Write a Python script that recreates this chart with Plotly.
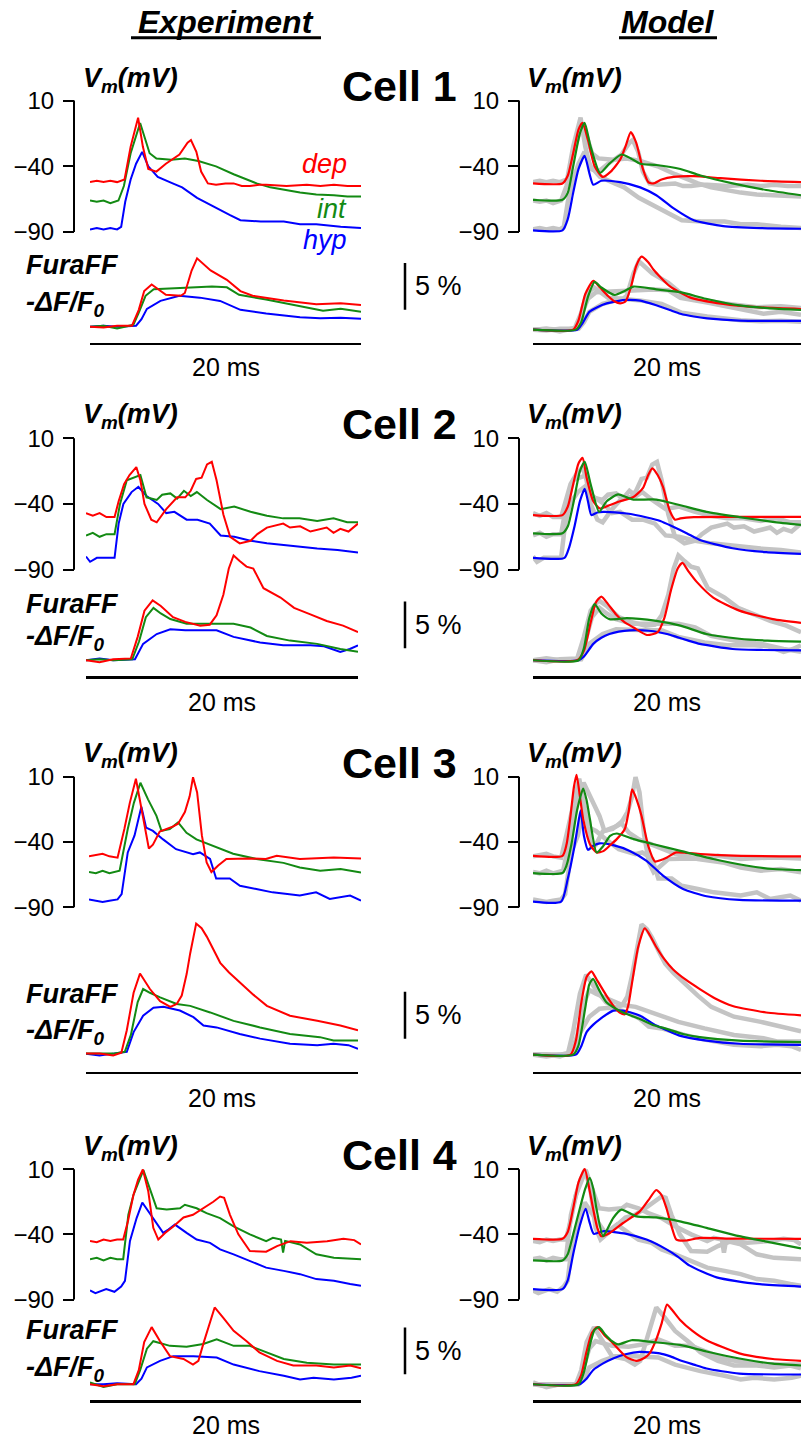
import plotly.graph_objects as go

# ---------------- DATA (time in ms, Vm in mV, FuraFF in % -dF/F0) ----------------
# Cell 1 - experiment
c1_exp_vm_dep_t = [0, 0.5, 1.0, 1.5, 2.0, 2.55, 3.0, 3.55, 3.9, 4.3, 4.9, 5.6, 6.6, 7.2, 7.45, 7.85, 8.2, 8.7, 9.3, 10.0, 10.6, 11.2, 11.8, 12.5, 13.0, 14.5, 16.0, 17.0, 18.0, 19.0, 20.0]
c1_exp_vm_dep_v = [-52, -51, -52, -51, -52, -50, -25, -3, -25, -42, -44, -38, -31, -22, -20, -29, -44, -53, -54, -53, -53, -55, -55, -54, -54, -55, -54, -55, -54, -55, -55]
c1_exp_vm_int_t = [0, 0.5, 1.0, 1.5, 2.1, 2.5, 3.0, 3.7, 4.4, 4.9, 6.0, 7.0, 8.0, 9.3, 10.6, 11.5, 12.3, 13.3, 14.3, 15.5, 16.7, 18.0, 19.0, 20.0]
c1_exp_vm_int_v = [-66, -67, -66, -68, -66, -55, -30, -7, -30, -34, -35, -34, -36, -40, -46, -50, -53, -56, -58, -60, -61.5, -62, -63, -63]
c1_exp_vm_hyp_t = [0, 0.5, 1.0, 1.5, 2.0, 2.3, 2.6, 3.0, 3.4, 3.85, 4.3, 5.0, 6.1, 6.8, 7.9, 9.35, 10.3, 11.1, 12.6, 14.3, 15.5, 16.7, 18.5, 20.0]
c1_exp_vm_hyp_v = [-88, -87, -88, -87, -88, -86, -67, -50, -38, -29, -40, -48, -53, -56, -64, -72, -77, -81, -82, -82, -84, -84, -86, -87]
c1_exp_ca_dep_t = [0, 1, 2, 3.1, 3.6, 4.0, 4.55, 5.0, 5.6, 6.7, 7.0, 7.5, 7.9, 8.9, 10.1, 11.1, 12.0, 14.3, 16.7, 18.5, 20]
c1_exp_ca_dep_v = [0, -0.1, 0.1, 0.1, 1.8, 3.8, 4.5, 4.0, 3.4, 3.3, 3.6, 6.0, 7.3, 6.0, 5.0, 3.8, 3.3, 2.8, 2.4, 2.5, 2.3]
c1_exp_ca_int_t = [0, 1, 2, 3.2, 3.6, 4.1, 4.7, 6, 7, 8, 9, 10.1, 11, 13, 15.5, 17.2, 18.5, 20]
c1_exp_ca_int_v = [0, 0.1, -0.2, 0.2, 1.5, 3.3, 4.0, 4.1, 4.2, 4.3, 4.3, 4.2, 3.4, 2.9, 2.2, 1.7, 1.9, 1.6]
c1_exp_ca_hyp_t = [0, 1, 2, 3.4, 3.8, 4.2, 5.2, 6.6, 8.1, 9.6, 11.1, 13, 15.5, 17, 18.5, 20]
c1_exp_ca_hyp_v = [0, 0.1, 0, 0.1, 0.8, 1.9, 2.75, 3.3, 3.1, 2.75, 1.8, 1.4, 1.0, 0.9, 0.95, 0.85]
# Cell 1 - model
c1_mod_vm_dep_t = [0, 2.2, 2.6, 3.0, 3.4, 3.7, 4.1, 4.6, 5.2, 5.8, 6.5, 6.9, 7.3, 7.7, 8.2, 8.6, 9.0, 9.6, 10.5, 12, 14, 17, 20]
c1_mod_vm_dep_v = [-53, -53, -47, -30, -12, -7, -20, -40, -48, -44, -35, -25, -14, -22, -42, -52, -53, -50, -48, -47.5, -49, -51, -52]
c1_mod_vm_int_t = [0, 2.2, 2.6, 3.0, 3.5, 3.85, 4.3, 5.0, 5.7, 6.6, 7.3, 8.0, 9.2, 11.0, 12.5, 14.9, 17.4, 20]
c1_mod_vm_int_v = [-65.5, -65.5, -60, -40, -15, -7, -25, -45, -38, -31, -34, -38, -39, -42, -47, -53, -58, -62]
c1_mod_vm_hyp_t = [0, 2.2, 2.6, 3.0, 3.4, 3.85, 4.2, 4.5, 5.1, 6.5, 8.0, 9.2, 10.5, 12.0, 14.2, 17, 20]
c1_mod_vm_hyp_v = [-88.7, -88.7, -80, -60, -42, -32, -45, -54, -51, -52, -56, -62, -72, -81, -85.5, -87, -87.5]
c1_mod_ca_dep_t = [0, 3.0, 3.4, 3.9, 4.5, 5.0, 5.6, 6.1, 6.5, 6.9, 7.3, 7.7, 8.1, 8.6, 9.0, 10.2, 11.7, 14.2, 16.7, 20]
c1_mod_ca_dep_v = [0, 0, 1.0, 3.8, 5.2, 4.5, 3.6, 3.0, 2.8, 3.0, 4.5, 6.8, 7.8, 7.2, 6.4, 4.65, 3.45, 2.75, 2.4, 2.2]
c1_mod_ca_int_t = [0, 3.2, 3.6, 4.1, 4.6, 5.1, 6.1, 6.8, 7.5, 9.2, 11, 12.9, 15.4, 17.5, 20]
c1_mod_ca_int_v = [0, 0, 0.8, 3.5, 5.1, 4.5, 3.7, 4.1, 4.6, 4.3, 4.0, 3.3, 2.6, 2.3, 2.1]
c1_mod_ca_hyp_t = [0, 3.3, 3.7, 4.2, 4.8, 5.5, 6.3, 7.0, 8.0, 9.2, 10.2, 11, 12, 13, 15.4, 20]
c1_mod_ca_hyp_v = [0, 0, 0.7, 1.9, 2.4, 2.8, 3.05, 3.17, 3.1, 2.6, 2.1, 1.7, 1.4, 1.2, 0.97, 0.93]

# Cell 2 - experiment
c2_exp_vm_dep_t = [0, 0.5, 1.0, 1.5, 2.1, 2.4, 2.8, 3.2, 3.7, 4.0, 4.3, 4.8, 5.2, 5.9, 6.7, 7.3, 7.7, 8.1, 8.5, 8.9, 9.25, 9.6, 10.1, 10.6, 11.3, 12.1, 12.6, 13.3, 14.5, 15.0, 15.75, 16.5, 17.7, 18.2, 18.7, 19.3, 20]
c2_exp_vm_dep_v = [-47, -49, -47, -50, -50, -38, -25, -18, -12, -22, -40, -52, -54, -44, -35, -35, -30, -21, -20, -10, -8, -22, -48, -65, -70, -68, -63, -58, -55, -58, -57, -61, -58, -62, -59, -61, -55]
c2_exp_vm_int_t = [0, 0.5, 1.0, 1.5, 2.1, 2.5, 3.0, 3.5, 4.0, 4.45, 5.2, 5.6, 6.2, 6.7, 7.2, 7.7, 8.15, 8.9, 9.9, 10.9, 12.1, 13.3, 14.5, 15.7, 17.0, 18.2, 19.2, 20]
c2_exp_vm_int_v = [-64, -62, -65, -63, -63, -40, -22, -20, -18, -35, -37, -33, -32, -36, -30, -34, -31, -37, -44, -42, -46, -49, -51, -51, -53, -51, -54, -54]
c2_exp_vm_hyp_t = [0, 0.3, 0.8, 1.5, 2.1, 2.4, 2.75, 3.35, 3.85, 4.45, 5.3, 5.9, 6.5, 7.4, 8.2, 9.1, 9.9, 10.9, 12.1, 13.3, 15.0, 16.0, 17.0, 18.5, 20]
c2_exp_vm_hyp_v = [-80, -84, -81, -81, -81, -55, -40, -31, -27, -34, -40, -47, -46, -52, -52, -55, -64, -65, -68, -70, -72, -73, -74, -75, -77]
c2_exp_ca_dep_t = [0, 1, 2, 3.3, 3.8, 4.3, 4.9, 5.5, 6.4, 7.3, 8.4, 9.1, 9.6, 10.1, 10.5, 10.85, 11.3, 11.8, 12.3, 13.05, 14.3, 15.3, 16.5, 17.7, 18.9, 20]
c2_exp_ca_dep_v = [0, -0.2, 0.1, 0.2, 2.5, 5.3, 6.4, 5.8, 4.6, 4.1, 3.7, 3.8, 4.8, 7.0, 9.8, 11.2, 10.6, 10.0, 9.8, 7.7, 6.7, 5.6, 4.9, 4.2, 3.7, 3.0]
c2_exp_ca_int_t = [0, 1, 2, 3.4, 3.9, 4.4, 4.96, 5.5, 6.2, 7.4, 9.0, 10.85, 12.1, 13.3, 15.0, 17.0, 18.7, 20]
c2_exp_ca_int_v = [0, 0.1, 0, 0.1, 2.0, 4.6, 5.6, 5.0, 4.4, 3.9, 3.9, 3.9, 3.5, 2.6, 2.1, 1.75, 1.2, 0.9]
c2_exp_ca_hyp_t = [0, 1, 2, 3.6, 4.2, 5.2, 6.2, 7.3, 8.4, 9.6, 10.85, 12.8, 14.5, 16.5, 17.5, 18.7, 19.4, 20]
c2_exp_ca_hyp_v = [0, 0.2, 0, 0.1, 1.75, 2.8, 3.3, 3.2, 3.2, 3.2, 2.5, 1.9, 1.6, 1.6, 1.5, 0.9, 1.2, 1.6]
# Cell 2 - model
c2_mod_vm_dep_t = [0, 2.2, 2.6, 3.0, 3.4, 3.7, 4.0, 4.5, 5.0, 5.7, 6.5, 7.5, 8.2, 8.6, 8.9, 9.3, 9.7, 10.2, 10.6, 11.0, 12.0, 15, 20]
c2_mod_vm_dep_v = [-48.5, -48.5, -42, -25, -9, -5, -20, -38, -43.5, -41, -38, -34.7, -28, -18, -13, -18, -27, -45, -52, -51, -50, -49.8, -49.8]
c2_mod_vm_int_t = [0, 2.2, 2.6, 3.0, 3.5, 3.86, 4.3, 4.93, 5.5, 6.35, 7.0, 7.5, 9.2, 11.0, 12.95, 15.4, 17.9, 20]
c2_mod_vm_int_v = [-62.4, -62.4, -57, -40, -15, -8, -25, -46, -38, -32.7, -35, -36.7, -36.7, -41, -46, -50, -53.6, -56]
c2_mod_vm_hyp_t = [0, 2.35, 2.7, 3.1, 3.5, 3.86, 4.1, 4.36, 4.8, 5.23, 7.0, 8.5, 9.5, 10.46, 11.5, 12.45, 14.9, 17.4, 20]
c2_mod_vm_hyp_v = [-81, -81, -73, -57, -38, -28.5, -38, -48.5, -46.5, -46, -47.3, -50.3, -53, -57.4, -62.5, -67.4, -73.7, -76.7, -78]
c2_mod_ca_dep_t = [0, 3.3, 3.8, 4.3, 4.7, 5.1, 5.6, 6.2, 6.8, 7.5, 8.5, 9.3, 9.8, 10.3, 10.8, 11.15, 11.6, 12.2, 13.45, 15.4, 17.9, 20]
c2_mod_ca_dep_v = [0, 0, 1.0, 4.0, 6.2, 6.8, 6.0, 4.9, 4.1, 3.5, 2.7, 3.0, 4.5, 7.5, 9.8, 10.4, 9.5, 8.4, 6.7, 5.3, 4.4, 4.0]
c2_mod_ca_int_t = [0, 3.4, 3.8, 4.2, 4.6, 5.1, 5.7, 6.3, 7.0, 9.2, 11.0, 12.95, 15.4, 17.5, 20]
c2_mod_ca_int_v = [0, 0, 1.3, 4.5, 6.0, 5.0, 4.4, 4.4, 4.5, 4.2, 3.7, 2.8, 2.3, 2.1, 2.0]
c2_mod_ca_hyp_t = [0, 3.4, 3.8, 4.5, 5.1, 5.7, 6.4, 7.2, 8.2, 9.0, 10.0, 10.7, 11.6, 12.45, 14.9, 17, 20]
c2_mod_ca_hyp_v = [0, 0, 0.4, 1.75, 2.4, 2.8, 3.05, 3.2, 3.2, 3.1, 2.8, 2.5, 2.1, 1.75, 1.2, 1.1, 1.05]

# Cell 3 - experiment
c3_exp_vm_dep_t = [0, 0.5, 1.0, 1.5, 2.1, 2.6, 3.0, 3.45, 4.0, 4.4, 4.7, 5.2, 6.2, 6.55, 7.05, 7.4, 7.65, 7.95, 8.3, 8.65, 9.0, 9.5, 10.1, 11.8, 13.0, 13.8, 15.5, 18.0, 20]
c3_exp_vm_dep_v = [-51, -50, -49, -51, -52, -30, -10, 8.5, -22, -45, -42, -32, -28, -26, -17, -5, 9.7, -2, -35, -55.7, -63, -58, -53, -52.6, -53, -50.6, -53, -51.8, -52.6]
c3_exp_vm_int_t = [0, 0.5, 1.0, 1.5, 2.25, 2.85, 3.3, 3.78, 4.34, 4.96, 5.33, 5.94, 6.55, 7.17, 7.9, 9.1, 10.6, 12.3, 14.3, 15.5, 17.0, 18.5, 20]
c3_exp_vm_int_v = [-63, -64, -62, -64, -62, -30, -10, 5.4, -7.3, -20, -31.5, -30, -25, -33, -38, -43, -49, -53, -56, -59.5, -62, -60.7, -63.3]
c3_exp_vm_hyp_t = [0, 0.5, 1.0, 1.5, 2.1, 2.4, 2.85, 3.35, 3.85, 4.2, 4.7, 5.45, 6.4, 7.65, 8.15, 8.9, 9.35, 10.35, 11.1, 12.3, 13.5, 15.5, 16.7, 17.7, 19.2, 20]
c3_exp_vm_hyp_v = [-84, -85, -86, -85, -84, -80, -48, -35, -13, -29, -31.5, -38, -45.5, -49.3, -48, -53, -68, -68, -73.5, -76, -78.6, -81, -78.6, -83.7, -81, -85]
c3_exp_ca_dep_t = [0, 1, 2, 2.6, 3.0, 3.5, 3.97, 4.3, 4.7, 5.45, 6.2, 6.67, 7.04, 7.4, 7.66, 8.1, 8.5, 8.88, 9.4, 9.87, 10.5, 11.3, 12.3, 13.3, 15.0, 17.0, 18.7, 20]
c3_exp_ca_dep_v = [0, 0, -0.2, 0.1, 2.5, 6.5, 8.55, 7.8, 6.9, 5.6, 5.0, 5.3, 6.2, 8.5, 10.7, 13.9, 13.4, 12.5, 11.0, 9.7, 8.7, 7.6, 6.3, 5.1, 4.05, 3.5, 3.0, 2.5]
c3_exp_ca_int_t = [0, 2, 2.85, 3.3, 3.8, 4.2, 4.7, 5.45, 6.67, 7.66, 9.13, 10.85, 12.8, 15.0, 17.2, 18.2, 20]
c3_exp_ca_int_v = [0, 0, 0.2, 2.0, 5.5, 6.9, 6.5, 6.0, 5.3, 5.1, 4.4, 3.5, 2.8, 2.1, 1.76, 1.4, 1.4]
c3_exp_ca_hyp_t = [0, 1, 2, 3.0, 3.5, 4.2, 4.96, 5.7, 6.9, 7.9, 8.64, 9.6, 11.3, 12.8, 15.0, 17.0, 18.2, 19.3, 20]
c3_exp_ca_hyp_v = [0, -0.2, 0, 0.2, 2.3, 4.05, 4.9, 5.0, 4.6, 3.9, 3.0, 2.8, 2.1, 1.6, 1.05, 0.9, 1.05, 0.9, 0.5]
# Cell 3 - model
c3_mod_vm_dep_t = [0, 2.2, 2.5, 2.8, 3.05, 3.25, 3.5, 3.75, 4.25, 4.75, 5.25, 5.8, 6.25, 6.85, 7.15, 7.4, 7.75, 8.1, 8.6, 9.1, 9.5, 10.0, 10.7, 12.5, 15, 20]
c3_mod_vm_dep_v = [-50.6, -50.6, -42, -20, 2, 11.5, -5, -22.6, -41.7, -48, -47, -42, -37.8, -30, -16, 0.3, -8, -20, -43, -55, -54, -51.8, -48, -49.3, -50.5, -51]
c3_mod_vm_int_t = [0, 2.2, 2.5, 2.9, 3.3, 3.75, 4.0, 4.25, 4.75, 5.25, 5.75, 6.25, 7.5, 9.0, 11.0, 13.45, 15.9, 17.9, 20]
c3_mod_vm_int_v = [-63.8, -63.8, -58, -40, -15, 1, -8, -22.6, -48, -43, -35.3, -33.5, -37.8, -41.7, -46.8, -53, -58, -60.7, -61.5]
c3_mod_vm_hyp_t = [0, 2.1, 2.6, 3.1, 3.4, 3.56, 3.8, 4.1, 4.48, 4.98, 5.98, 7.22, 8.47, 9.7, 11.2, 12.95, 15.4, 20]
c3_mod_vm_hyp_v = [-85.7, -85.7, -68, -43, -24, -15.7, -35.3, -46, -43, -41, -42.4, -46.8, -54.4, -65.8, -76, -81.6, -84.4, -85]
c3_mod_ca_dep_t = [0, 2.8, 3.2, 3.6, 4.0, 4.36, 4.8, 5.48, 6.0, 6.47, 6.85, 7.1, 7.35, 7.85, 8.34, 8.7, 9.2, 9.8, 10.46, 11.4, 12.45, 13.6, 14.9, 17.4, 20]
c3_mod_ca_dep_v = [0, 0, 1.5, 5.5, 8.3, 8.9, 7.9, 6.3, 5.2, 4.5, 4.3, 5.2, 7.3, 11.5, 13.5, 12.8, 11.5, 10.2, 9.1, 8.0, 7.0, 6.0, 5.2, 4.5, 4.2]
c3_mod_ca_int_t = [0, 3.0, 3.4, 3.9, 4.2, 4.48, 4.9, 5.48, 6.72, 7.97, 8.9, 9.96, 11.2, 12.45, 15.4, 20]
c3_mod_ca_int_v = [0, 0, 1.0, 5.0, 7.5, 8.1, 7.0, 5.6, 4.5, 3.8, 3.2, 2.75, 2.2, 1.87, 1.5, 1.34]
c3_mod_ca_hyp_t = [0, 3.2, 3.6, 4.0, 4.5, 5.0, 6.0, 6.7, 7.3, 8.0, 9.2, 10.0, 11.0, 12.95, 15.4, 20]
c3_mod_ca_hyp_v = [0, 0, 0.9, 2.4, 3.2, 3.8, 4.7, 4.7, 4.5, 4.15, 3.1, 2.6, 2.0, 1.5, 1.16, 1.05]

# Cell 4 - experiment
c4_exp_vm_dep_t = [0, 0.5, 1.0, 1.5, 2.0, 2.45, 2.8, 3.2, 3.55, 3.9, 4.3, 4.67, 5.04, 5.54, 6.15, 6.9, 7.6, 8.36, 9.1, 9.6, 9.9, 10.33, 10.95, 11.8, 13.0, 13.8, 14.8, 16.0, 17.5, 18.7, 19.5, 20]
c4_exp_vm_dep_v = [-45, -46, -44, -45, -44, -44, -30, -10, 2, 9.7, -7, -35, -44, -39, -34, -27, -25, -20, -15, -11, -12, -25, -40, -52.8, -53.3, -49, -45.2, -46.5, -45.2, -43.4, -44.4, -47.7]
c4_exp_vm_int_t = [0, 0.5, 1.0, 1.5, 2.0, 2.45, 2.83, 3.2, 3.94, 4.43, 4.92, 5.66, 6.64, 7.0, 7.87, 8.6, 9.6, 10.6, 11.8, 13.0, 13.5, 14.1, 14.25, 14.4, 15.5, 16.7, 18.0, 20]
c4_exp_vm_int_v = [-59, -58, -60, -58, -59, -59, -25, -10, 9.2, -4.7, -20, -21, -20, -17.3, -20, -23.7, -27.5, -33.8, -40, -45.2, -42.7, -44, -54, -45, -47.7, -55.3, -58, -59]
c4_exp_vm_hyp_t = [0, 0.4, 1.2, 1.8, 2.3, 2.58, 2.95, 3.44, 3.86, 4.3, 4.92, 5.4, 5.78, 6.27, 7.13, 7.87, 8.86, 9.6, 10.6, 11.8, 13.0, 14.3, 15.5, 16.7, 18.0, 19.2, 20]
c4_exp_vm_hyp_v = [-83, -85, -82, -84, -80, -75.6, -45, -27.5, -15.6, -22.4, -32.5, -38.9, -36.3, -32.5, -38.9, -44, -46.5, -51.5, -55.3, -60.4, -65.5, -68, -70.5, -74.3, -75.6, -78, -79.4]
c4_exp_ca_dep_t = [0, 1, 2, 3.2, 3.6, 4.0, 4.55, 5.17, 5.9, 6.9, 7.6, 8.0, 8.4, 8.73, 9.2, 9.84, 10.6, 11.56, 12.5, 13.8, 15.0, 16.7, 18.0, 19.2, 20]
c4_exp_ca_dep_v = [0, -0.2, 0, 0, 1.5, 4.5, 6.1, 4.6, 3.0, 2.7, 2.1, 2.5, 4.5, 6.1, 8.2, 7.1, 5.7, 4.6, 3.4, 2.5, 2.0, 2.0, 1.8, 2.0, 1.7]
c4_exp_ca_int_t = [0, 1, 2, 3.3, 3.7, 4.2, 4.67, 5.9, 7.13, 8.36, 9.35, 10.6, 11.8, 13.0, 14.3, 16.0, 18.0, 20]
c4_exp_ca_int_v = [0.2, -0.3, 0, 0, 1.5, 3.8, 4.6, 4.1, 4.0, 4.3, 4.8, 4.1, 4.1, 3.4, 2.7, 2.3, 2.1, 2.1]
c4_exp_ca_hyp_t = [0, 1, 2, 3.4, 3.8, 4.2, 5.17, 6.15, 7.63, 9.35, 10.6, 12.5, 14.3, 15.5, 16.5, 18.0, 19.3, 20]
c4_exp_ca_hyp_v = [0, 0, 0.1, 0, 0.6, 1.8, 2.5, 3.0, 3.0, 2.86, 2.1, 1.4, 0.9, 0.5, 0.7, 0.5, 0.7, 0.9]
# Cell 4 - model
c4_mod_vm_dep_t = [0, 2.2, 2.6, 3.0, 3.4, 3.86, 4.2, 4.48, 4.8, 5.1, 5.73, 6.72, 7.97, 8.6, 9.2, 9.6, 9.96, 10.4, 10.7, 11.45, 12.45, 15, 20]
c4_mod_vm_dep_v = [-43.4, -43.4, -38, -20, 0, 10, -5, -20, -35, -41.4, -38.9, -31.3, -22.4, -14, -6, -10, -20, -36, -44, -44.7, -42.7, -43.3, -43.4]
c4_mod_vm_int_t = [0, 2.2, 2.6, 3.0, 3.5, 3.9, 4.23, 4.5, 4.73, 5.23, 5.6, 5.98, 6.6, 7.72, 9.2, 10.96, 12.95, 15.4, 17.9, 20]
c4_mod_vm_int_v = [-60, -60, -55, -40, -20, -5, 3.4, -5, -20, -41.4, -35, -27.5, -21, -26.2, -27, -30, -35, -41.4, -46.5, -50.8]
c4_mod_vm_hyp_t = [0, 2.2, 2.6, 3.0, 3.5, 3.93, 4.2, 4.53, 5.23, 6.97, 8.47, 9.96, 10.8, 11.7, 13.7, 16.7, 20]
c4_mod_vm_hyp_v = [-82, -82, -75, -55, -33, -20.4, -30, -39.6, -37.6, -39.6, -44, -51.5, -57, -64, -73, -78, -80]
c4_mod_ca_dep_t = [0, 3.2, 3.6, 4.0, 4.4, 4.78, 5.3, 5.98, 6.97, 7.72, 8.3, 8.7, 9.2, 9.6, 10.0, 10.4, 10.96, 11.9, 12.95, 15.4, 17.9, 20]
c4_mod_ca_dep_v = [0, 0, 1.0, 3.5, 5.5, 6.1, 5.3, 4.36, 2.9, 2.5, 2.8, 3.3, 4.8, 6.5, 8.5, 7.9, 6.9, 5.7, 4.7, 3.3, 2.7, 2.5]
c4_mod_ca_int_t = [0, 3.4, 3.8, 4.3, 4.6, 4.93, 5.4, 5.9, 6.35, 7.35, 8.96, 10.96, 12.95, 15.4, 17.9, 20]
c4_mod_ca_int_v = [0, 0, 1.3, 4.5, 5.8, 6.1, 5.3, 4.6, 4.25, 4.7, 4.5, 4.2, 3.5, 2.75, 2.2, 2.0]
c4_mod_ca_hyp_t = [0, 3.5, 4.0, 4.48, 5.2, 5.98, 6.9, 7.97, 9.46, 10.2, 10.96, 12.0, 12.95, 15.4, 20]
c4_mod_ca_hyp_v = [0, 0, 0.6, 1.5, 2.2, 2.75, 3.2, 3.46, 3.3, 3.0, 2.57, 2.1, 1.68, 1.14, 1.04]

cell_labels = ["Cell 1", "Cell 2", "Cell 3", "Cell 4"]
vm_ticks = [10, -40, -90]
time_bar_label = "20 ms"
ca_bar_label = "5 %"
ca_bar_size = 5

# ---------------- FIGURE ----------------
W, H = 801, 1445
FONT = "Liberation Sans, Arial, Helvetica, sans-serif"
COL = {"dep": "#ff0000", "int": "#138a13", "hyp": "#0000ff"}
GREY = "#c4c4c4"
PX_PER_PCT = 9.4
G = globals()


def series(cell, col, kind, cond):
    return G[f"c{cell}_{col}_{kind}_{cond}_t"], G[f"c{cell}_{col}_{kind}_{cond}_v"]


GEOM = [
    dict(p10=98, p90=230, be=325, bm=328, tl=341, bar=(260, 308), vm_y=77, cell_y=83, fura_y=263, dff_y=302, ms_y=366, exv=(90, 361), exc=(90, 361)),
    dict(p10=437, p90=569, be=660, bm=660, tl=676, bar=(602, 648), vm_y=415, cell_y=423, fura_y=604, dff_y=638, ms_y=702, exv=(86, 358), exc=(86, 358)),
    dict(p10=777, p90=908, be=1055, bm=1056, tl=1073, bar=(993, 1040), vm_y=755, cell_y=763, fura_y=995, dff_y=1033, ms_y=1100, exv=(89, 361), exc=(86, 358)),
    dict(p10=1171, p90=1302, be=1387, bm=1387, tl=1403, bar=(1330, 1377), vm_y=1150, cell_y=1157, fura_y=1333, dff_y=1372, ms_y=1428, exv=(90, 361), exc=(90, 361)),
]
MODX = (533, 801)
AXX = {"exp": 74, "mod": 519}

fig = go.Figure()
shapes, annots = [], []
counter = [0]


def fx(p):
    return p / W


def fy(p):
    return 1 - p / H


def new_axes(xdom, ydom, xrange, yrange, xkw, ykw):
    counter[0] += 1
    n = counter[0]
    sx = "" if n == 1 else str(n)
    xa = dict(domain=[fx(xdom[0]), fx(xdom[1])], range=xrange, anchor="y" + sx,
              showgrid=False, zeroline=False, fixedrange=True)
    xa.update(xkw)
    ya = dict(domain=[fy(ydom[1]), fy(ydom[0])], range=yrange, anchor="x" + sx,
              showgrid=False, zeroline=False, fixedrange=True)
    ya.update(ykw)
    fig.update_layout({"xaxis" + sx: xa, "yaxis" + sx: ya})
    return "x" + sx, "y" + sx


def add_line(xr, yr, t, v, color, width, smooth=False):
    fig.add_trace(go.Scatter(x=t, y=v, xaxis=xr, yaxis=yr, mode="lines",
                             line=dict(color=color, width=width,
                                       shape="spline" if smooth else "linear",
                                       smoothing=0.6 if smooth else None),
                             showlegend=False, hoverinfo="skip"))


def ann(text, x, y, size, xanchor="center", color="black"):
    annots.append(dict(text=text, x=fx(x), y=fy(y), xref="paper", yref="paper",
                       xanchor=xanchor, yanchor="middle", showarrow=False,
                       font=dict(family=FONT, size=size, color=color)))


VM_LO, VM_HI = -98, 18
for ci, g in enumerate(GEOM):
    cell = ci + 1
    s = (g["p90"] - g["p10"]) / 100.0
    for col in ("exp", "mod"):
        xv = g["exv"] if col == "exp" else MODX
        xc = g["exc"] if col == "exp" else MODX
        base = g["be"] if col == "exp" else g["bm"]
        # ---- Vm panel ----
        top = g["p10"] - (VM_HI - 10) * s
        bot = g["p90"] + (-90 - VM_LO) * s
        xr, yr = new_axes(xv, (top, bot), [0, 20], [VM_LO, VM_HI],
                          dict(visible=False),
                          dict(anchor="free", position=fx(AXX[col]), showline=False,
                               ticks="outside", ticklen=11, tickwidth=2, tickcolor="black",
                               tickvals=vm_ticks, ticklabelstandoff=4,
                               tickfont=dict(family=FONT, size=24, color="black")))
        shapes.append(dict(type="line", xref="paper", yref=yr, x0=fx(AXX[col]), x1=fx(AXX[col]),
                           y0=-90, y1=10, line=dict(color="black", width=2)))
        if col == "mod":
            for cond in ("hyp", "int", "dep"):
                t, v = series(cell, "exp", "vm", cond)
                add_line(xr, yr, t, v, GREY, 4.5)
            for cond in ("hyp", "dep", "int"):
                t, v = series(cell, "mod", "vm", cond)
                add_line(xr, yr, t, v, COL[cond], 2.2, smooth=True)
        else:
            for cond in ("hyp", "int", "dep"):
                t, v = series(cell, "exp", "vm", cond)
                add_line(xr, yr, t, v, COL[cond], 2)
        # ---- FuraFF panel ----
        yrng = [-(g["tl"] - base) / PX_PER_PCT, (base - g["p10"]) / PX_PER_PCT]
        xr2, yr2 = new_axes(xc, (g["p10"], g["tl"]), [0, 20], yrng,
                            dict(showline=True, linewidth=2.5, linecolor="black",
                                 showticklabels=False, ticks=""),
                            dict(visible=False))
        if col == "mod":
            for cond in ("hyp", "int", "dep"):
                t, v = series(cell, "exp", "ca", cond)
                add_line(xr2, yr2, t, v, GREY, 4.5)
            for cond in ("hyp", "dep", "int"):
                t, v = series(cell, "mod", "ca", cond)
                add_line(xr2, yr2, t, v, COL[cond], 2.2, smooth=True)
        else:
            for cond in ("hyp", "int", "dep"):
                t, v = series(cell, "exp", "ca", cond)
                add_line(xr2, yr2, t, v, COL[cond], 2)
            # 5 % scale bar
            b0 = (base - g["bar"][1]) / PX_PER_PCT
            shapes.append(dict(type="line", xref="paper", yref=yr2, x0=fx(405), x1=fx(405),
                               y0=b0, y1=b0 + ca_bar_size, line=dict(color="black", width=2.5)))
            ann(ca_bar_label, 413, (g["bar"][0] + g["bar"][1]) / 2, 27, xanchor="left")
            ann("<b><i>FuraFF</i></b>", 24, g["fura_y"], 27, xanchor="left")
            ann("<b><i>-ΔF/F<sub>0</sub></i></b>", 24, g["dff_y"], 27, xanchor="left")
        # labels
        ann("<b><i>V<sub>m</sub>(mV)</i></b>", 81 if col == "exp" else 525, g["vm_y"], 27, xanchor="left")
        ann(time_bar_label, (xc[0] + xc[1]) / 2, g["ms_y"], 25)
    ann(f"<b>{cell_labels[ci]}</b>", 399, g["cell_y"], 43)

# condition labels (cell 1)
ann("<i>dep</i>", 349, 162, 27, xanchor="right", color=COL["dep"])
ann("<i>int</i>", 349, 207, 27, xanchor="right", color=COL["int"])
ann("<i>hyp</i>", 349, 238, 27, xanchor="right", color=COL["hyp"])

# column titles
ann("<b><i>Experiment</i></b>", 226, 19, 32)
ann("<b><i>Model</i></b>", 668, 19, 32)
shapes.append(dict(type="line", xref="paper", yref="paper", x0=fx(131), x1=fx(321), y0=fy(35), y1=fy(35),
                   line=dict(color="black", width=3)))
shapes.append(dict(type="line", xref="paper", yref="paper", x0=fx(619), x1=fx(717), y0=fy(35), y1=fy(35),
                   line=dict(color="black", width=3)))

fig.update_layout(width=W, height=H, autosize=False, margin=dict(l=0, r=0, t=0, b=0, pad=0),
                  paper_bgcolor="white", plot_bgcolor="rgba(0,0,0,0)",
                  shapes=shapes, annotations=annots, showlegend=False,
                  font=dict(family=FONT, color="black"))

fig.write_html("out.html", config={"displayModeBar": False, "staticPlot": True},
               post_script="document.body.style.margin='0px';")
